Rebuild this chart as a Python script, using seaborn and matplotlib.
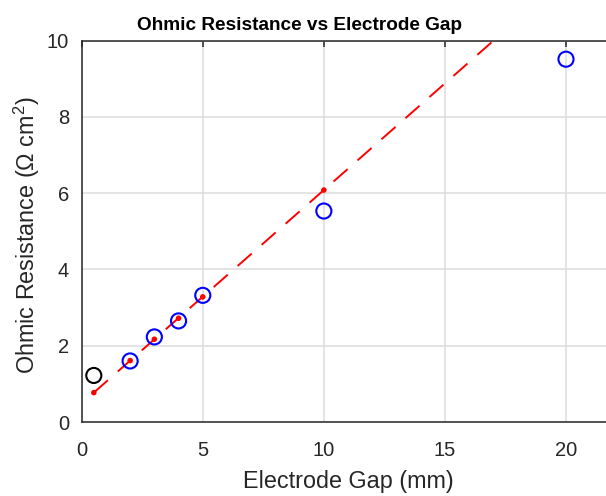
import matplotlib
matplotlib.use("Agg")
import matplotlib.pyplot as plt
import seaborn as sns
import pandas as pd

# Measured data
gap_ref = [0.5]
res_ref = [1.22]
gap = [2, 3, 4, 5, 10, 20]
res = [1.60, 2.23, 2.65, 3.32, 5.53, 9.51]

# Linear fit points (small dots) and fit line extent
fit_x = [0.5, 2, 3, 4, 5, 10]
fit_y = [0.77, 1.61, 2.17, 2.72, 3.28, 6.08]
fit_line_x = [0.5, 20]
fit_line_y = [0.77, 11.67]

xticks = [0, 5, 10, 15, 20]
yticks = [0, 2, 4, 6, 8, 10]

sns.set_style("white")
plt.rcParams['font.family'] = ['Liberation Sans', 'DejaVu Sans']
plt.rcParams['lines.scale_dashes'] = False
plt.rcParams['mathtext.fontset'] = 'custom'
plt.rcParams['mathtext.rm'] = 'Liberation Sans'
plt.rcParams['mathtext.it'] = 'Liberation Sans:italic'
plt.rcParams['mathtext.bf'] = 'Liberation Sans:bold'

W, H = 606, 496
fig = plt.figure(figsize=(W / 100, H / 100), dpi=100)
ax = fig.add_axes([81.7 / W, 1 - 422 / H, 22 * 24.215 / W, (422 - 40.5) / H])

df_line = pd.DataFrame({"x": fit_line_x, "y": fit_line_y})
sns.lineplot(data=df_line, x="x", y="y", ax=ax, color=(1, 0, 0), linewidth=1.4,
             dashes=False, zorder=3)
ax.lines[-1].set_dashes([13.5, 9.5])

df_fit = pd.DataFrame({"x": fit_x, "y": fit_y})
sns.scatterplot(data=df_fit, x="x", y="y", ax=ax, color=(1, 0, 0), s=16,
                edgecolor="none", zorder=4)

df_ref = pd.DataFrame({"x": gap_ref, "y": res_ref})
sns.scatterplot(data=df_ref, x="x", y="y", ax=ax, facecolor="none",
                edgecolor="black", s=118, linewidth=1.5, zorder=5)
df = pd.DataFrame({"x": gap, "y": res})
sns.scatterplot(data=df, x="x", y="y", ax=ax, facecolor="none",
                edgecolor=(0, 0, 1), s=118, linewidth=1.5, zorder=5)

ax.set_xlim(0, 22)
ax.set_ylim(0, 10)
ax.set_xticks(xticks)
ax.set_yticks(yticks)
ax.grid(True, color="#dcdcdc", linewidth=1.1)
ax.set_axisbelow(True)

for s in ["left", "bottom", "top", "right"]:
    ax.spines[s].set_color("#262626")
    ax.spines[s].set_linewidth(1.1)
    ax.spines[s].set_visible(True)

ax.tick_params(axis="both", which="both", direction="in", length=4, width=1.1,
               color="#262626", labelcolor="#262626", labelsize=14.5,
               top=True, right=True)
ax.tick_params(axis="x", pad=14)
ax.tick_params(axis="y", pad=9)

ax.set_xlabel("Electrode Gap (mm)", fontsize=16.8, color="#262626", va="baseline")
ax.xaxis.set_label_coords(0.5, (422 - 488) / 381.5)
ax.set_ylabel(r"Ohmic Resistance ($\Omega$ cm$^2$)", fontsize=16.8, color="#262626",
              va="baseline")
ax.yaxis.set_label_coords((35 - 81.7) / (22 * 24.215), 0.49)

fig.text(299.5 / W, 1 - 30 / H, "Ohmic Resistance vs Electrode Gap", ha="center",
         va="baseline", fontsize=13.7, fontweight="bold", color="black")

fig.savefig("out.png", dpi=100)
